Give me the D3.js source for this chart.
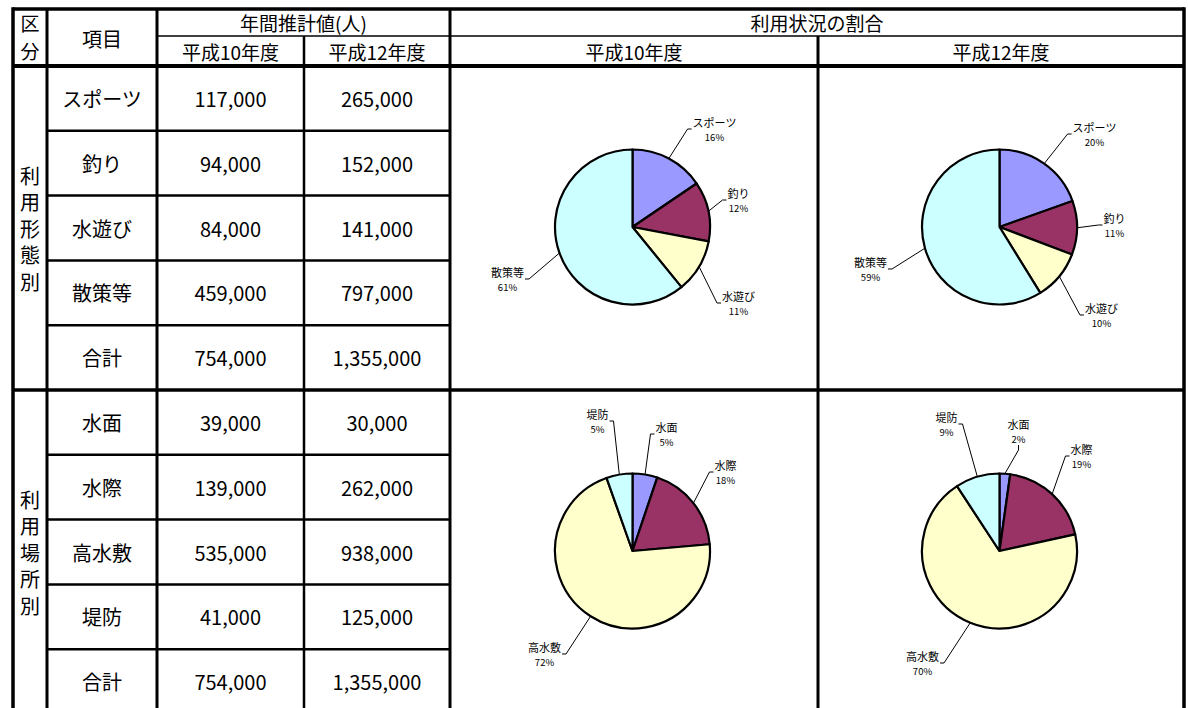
<!DOCTYPE html>
<html><head><meta charset="utf-8">
<script src="https://cdn.jsdelivr.net/npm/d3@7"></script>
<style>
html,body{margin:0;padding:0;background:#fff;}
svg{display:block;}
text{font-family:"Noto Sans CJK JP","Noto Sans",sans-serif;fill:#000;}
</style></head><body>
<svg id="c" width="1188" height="708"></svg>
<script>
// ---- data ----
const years = ["平成10年度", "平成12年度"];
const usageTitle = "利用形態別";
const usageCategories = ["スポーツ", "釣り", "水遊び", "散策等"];
const usageH10 = [117000, 94000, 84000, 459000];
const usageH12 = [265000, 152000, 141000, 797000];
const usagePctH10 = ["16%", "12%", "11%", "61%"];
const usagePctH12 = ["20%", "11%", "10%", "59%"];
const placeTitle = "利用場所別";
const placeCategories = ["水面", "水際", "高水敷", "堤防"];
const placeH10 = [39000, 139000, 535000, 41000];
const placeH12 = [30000, 262000, 938000, 125000];
const placePctH10 = ["5%", "18%", "72%", "5%"];
const placePctH12 = ["2%", "19%", "70%", "9%"];
const totalLabel = "合計";
const sliceColors = ["#9999FF", "#993366", "#FFFFCC", "#CCFFFF"];

// ---- label layout (offsets of label block from pie centre) ----
const layoutUsageH10 = [{dx:82,dy:-98,side:"left"},{dx:106,dy:-27,side:"left"},{dx:106,dy:76,side:"left"},{dx:-125,dy:52,side:"right"}];
const layoutUsageH12 = [{dx:95,dy:-93,side:"left"},{dx:115,dy:-2,side:"left"},{dx:102,dy:88,side:"left"},{dx:-129,dy:42,side:"right"}];
const layoutPlaceH10 = [{dx:34,dy:-117,side:"left"},{dx:93,dy:-79,side:"left"},{dx:-88,dy:103,side:"right"},{dx:-35,dy:-130,side:"right"}];
const layoutPlaceH12 = [{dx:19,dy:-120,side:"bottom"},{dx:82,dy:-95,side:"left"},{dx:-77,dy:112,side:"right"},{dx:-53,dy:-127,side:"right"}];

const svg = d3.select("#c");
const fmt = d3.format(",");

const colEdges = [13, 47, 157, 304, 450, 818, 1184];
const yTop = 9, yHeadMid = 36, yHeadBot = 66;
const rowY = d3.scaleLinear().domain([0, 10]).range([66, 714]);
const colMid = i => (colEdges[i] + colEdges[i + 1]) / 2;

function txt(x, y, s, size, g) {
  return (g || svg).append("text").attr("x", x).attr("y", y)
    .attr("text-anchor", "middle").attr("dominant-baseline", "central")
    .style("font-size", size + "px").text(s);
}
function line(x1, y1, x2, y2, w, c) {
  svg.append("line").attr("x1", x1).attr("y1", y1).attr("x2", x2).attr("y2", y2)
    .attr("stroke", c || "#000").attr("stroke-width", w);
}

// ---- header ----
txt(30, 22, "区", 19);
txt(30, 50, "分", 19);
txt(colMid(1), 38, "項目", 20);
txt((colEdges[2] + colEdges[4]) / 2, 22, "年間推計値(人)", 19);
txt(colMid(2), 51, years[0], 19);
txt(colMid(3), 51, years[1], 19);
txt((colEdges[4] + colEdges[6]) / 2, 22, "利用状況の割合", 19);
txt(colMid(4), 51, years[0], 19);
txt(colMid(5), 51, years[1], 19);

// ---- body ----
const sections = [
  {title: usageTitle, cats: usageCategories, a: usageH10, b: usageH12, pa: usagePctH10, pb: usagePctH12, la: layoutUsageH10, lb: layoutUsageH12},
  {title: placeTitle, cats: placeCategories, a: placeH10, b: placeH12, pa: placePctH10, pb: placePctH12, la: layoutPlaceH10, lb: layoutPlaceH12}
];

const pie = d3.pie().sort(null).value(d => d);
const R = 77.5;
const arc = d3.arc().innerRadius(0).outerRadius(R);

sections.forEach((sec, s) => {
  const r0 = s * 5;
  const secTop = rowY(r0), secBot = rowY(r0 + 5);
  const chars = Array.from(sec.title);
  const mid = (secTop + secBot) / 2;
  chars.forEach((ch, i) => txt(30, mid + (i - (chars.length - 1) / 2) * 26.5, ch, 20));
  const names = sec.cats.concat([totalLabel]);
  const va = sec.a.concat([d3.sum(sec.a)]);
  const vb = sec.b.concat([d3.sum(sec.b)]);
  names.forEach((n, i) => {
    const yc = (rowY(r0 + i) + rowY(r0 + i + 1)) / 2;
    txt(colMid(1), yc, n, 20);
    txt(colMid(2), yc, fmt(va[i]), 20);
    txt(colMid(3), yc, fmt(vb[i]), 20);
  });
  [[sec.a, sec.pa, sec.la, 4], [sec.b, sec.pb, sec.lb, 5]].forEach(([vals, pcts, lay, col]) => {
    const cx = colMid(col) - 1.5, cy = mid - 1;
    const g = svg.append("g").attr("transform", `translate(${cx},${cy})`);
    const arcs = pie(vals);
    g.selectAll("path.slice").data(arcs).enter().append("path")
      .attr("class", "slice")
      .attr("d", arc)
      .attr("fill", (d, i) => sliceColors[i])
      .attr("stroke", "#000").attr("stroke-width", 2.2).attr("stroke-linejoin", "round");
    arcs.forEach((d, i) => {
      const L = lay[i];
      const t1 = txt(L.dx, L.dy - 7, sec.cats[i], 11, g);
      const t2 = txt(L.dx, L.dy + 7.5, pcts[i], 9.5, g);
      const w = Math.max(t1.node().getComputedTextLength(), t2.node().getComputedTextLength());
      const a = (d.startAngle + d.endAngle) / 2;
      const ex = Math.sin(a) * R, ey = -Math.cos(a) * R;
      let pts;
      if (L.side === "left") {
        const tl = L.dx - w / 2;
        pts = [[ex, ey], [tl - 5, L.dy], [tl - 1, L.dy]];
      } else if (L.side === "right") {
        const tr = L.dx + w / 2;
        pts = [[ex, ey], [tr + 5, L.dy], [tr + 1, L.dy]];
      } else {
        const tb = L.dy + 14;
        pts = [[ex, ey], [L.dx, tb + 5], [L.dx, tb]];
      }
      g.append("path").attr("d", d3.line()(pts)).attr("fill", "none")
        .attr("stroke", "#000").attr("stroke-width", 1);
    });
  });
});

// ---- grid lines ----
const bottom = 720;
line(colEdges[0], yTop, colEdges[6], yTop, 3.5);
line(colEdges[0], yTop - 1.75, colEdges[0], bottom, 3.5);
line(colEdges[6], yTop - 1.75, colEdges[6], bottom, 3.5);
line(colEdges[1], yTop, colEdges[1], bottom, 3);
line(colEdges[2], yTop, colEdges[2], bottom, 3);
line(colEdges[3], yHeadMid, colEdges[3], bottom, 2.5);
line(colEdges[4], yTop, colEdges[4], bottom, 3);
line(colEdges[5], yHeadMid, colEdges[5], bottom, 3);
line(colEdges[2], yHeadMid, colEdges[6], yHeadMid, 1.6);
line(colEdges[0], yHeadBot, colEdges[6], yHeadBot, 4);
line(colEdges[0], rowY(5), colEdges[6], rowY(5), 3.5);
[1, 2, 3, 4, 6, 7, 8, 9].forEach(r => line(colEdges[1], rowY(r), colEdges[4], rowY(r), 2.5));
</script>
</body></html>
